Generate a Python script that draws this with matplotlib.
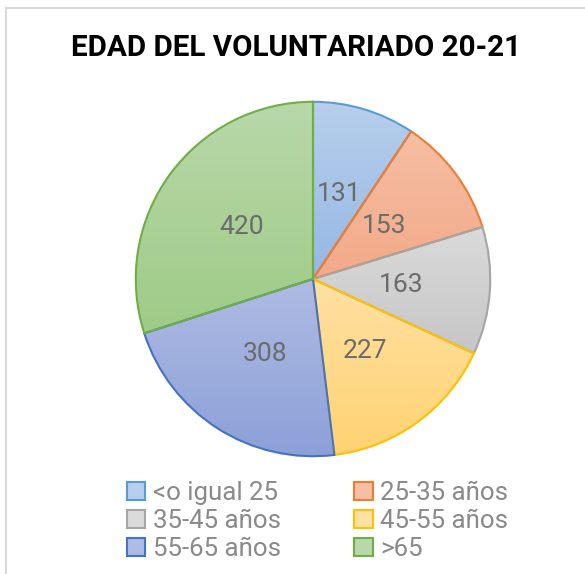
import numpy as np
import matplotlib.pyplot as plt
from matplotlib.patches import Patch
from matplotlib.lines import Line2D
from matplotlib.colors import LinearSegmentedColormap
from matplotlib import font_manager

# data
categories = ['<o igual 25', '25-35 años', '35-45 años', '45-55 años', '55-65 años', '>65']
values = [131, 153, 163, 227, 308, 420]
title = 'EDAD DEL VOLUNTARIADO 20-21'

# colours: gradient top / bottom, edge
top_colors = ['#b7cfec', '#f6bea4', '#dadada', '#ffe1a3', '#afbbe3', '#b8d8aa']
bottom_colors = ['#96b7e3', '#f2a988', '#c6c6c6', '#ffd272', '#8ca0d8', '#9ecb86']
edge_colors = ['#5b9bd5', '#ed7d31', '#a5a5a5', '#ffc000', '#4472c4', '#70ad47']

names = {f.name for f in font_manager.fontManager.ttflist}
title_font = 'Roboto' if 'Roboto' in names else 'DejaVu Sans'
text_font = 'Roboto' if 'Roboto' in names else 'DejaVu Sans'

W, H = 585, 574
fig = plt.figure(figsize=(W / 100, H / 100), dpi=100)

# pie axes: centre and radius in pixels
cx, cy, R = 313, 279, 179
ax = fig.add_axes([(cx - R) / W, (H - cy - R) / H, 2 * R / W, 2 * R / H])

total = sum(values)
wedges, texts, autotexts = ax.pie(
    values, startangle=90, counterclock=False, radius=1,
    autopct=lambda p: f'{round(p * total / 100)}', pctdistance=0.5,
    wedgeprops=dict(linewidth=1.5), frame=False)
ax.set_xlim(-1.01, 1.01)
ax.set_ylim(-1.01, 1.01)
ax.axis('off')

# Excel style vertical gradient inside each wedge
for w, ct, cb, ec in zip(wedges, top_colors, bottom_colors, edge_colors):
    w.set_facecolor('none')
    w.set_edgecolor(ec)
    w.set_zorder(3)
    ext = w.get_path().get_extents()
    cmap = LinearSegmentedColormap.from_list('g', [cb, ct])
    grad = np.linspace(0, 1, 256).reshape(-1, 1)
    im = ax.imshow(grad, cmap=cmap, origin='lower', aspect='auto',
                   extent=[ext.x0, ext.x1, ext.y0, ext.y1], zorder=2)
    im.set_clip_path(w)

for t in autotexts:
    t.set_fontsize(19)
    t.set_color('#6b6b6b')
    t.set_fontfamily(text_font)
    t.set_zorder(5)

fig.text(296 / W, 1 - 48 / H, title, ha='center', va='center',
         fontsize=21.3, fontweight='bold', fontfamily=title_font, color='#000000')

# legend, two columns filled row by row
handles = [Patch(facecolor=ct, edgecolor=ec, linewidth=1.5)
           for ct, ec in zip(top_colors, edge_colors)]
order = [0, 2, 4, 1, 3, 5]
leg = fig.legend([handles[i] for i in order], [categories[i] for i in order],
                 ncol=2, loc='upper left', bbox_to_anchor=(127 / W, 1 - 481 / H),
                 frameon=False, handlelength=0.7, handleheight=0.7,
                 handletextpad=0.3, columnspacing=2.85, labelspacing=0.15,
                 borderpad=0, borderaxespad=0,
                 prop=dict(family=text_font, size=18.6))
for t in leg.get_texts():
    t.set_color('#8a8a8a')

# chart frame (partly cropped)
fig.add_artist(Line2D([6 / W, 6 / W], [0, 1 - 8 / H], color='#d9d9d9', linewidth=1.5))
fig.add_artist(Line2D([6 / W, 1], [1 - 8 / H, 1 - 8 / H], color='#d9d9d9', linewidth=1.5))

fig.savefig('out.png', dpi=100)
